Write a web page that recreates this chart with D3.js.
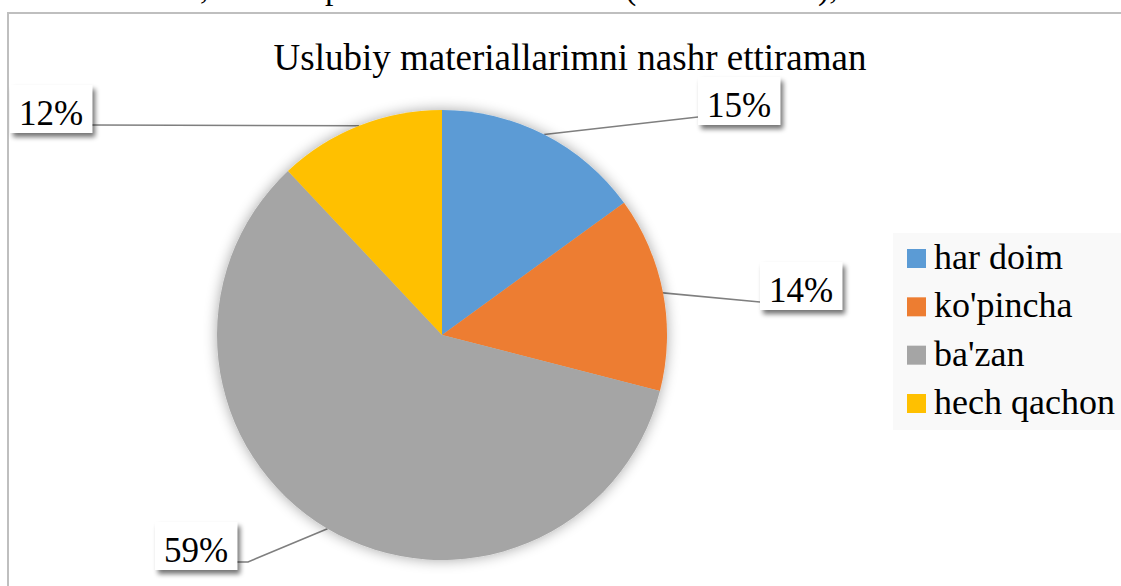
<!DOCTYPE html>
<html>
<head>
<meta charset="utf-8">
<script src="https://cdn.jsdelivr.net/npm/d3@7"></script>
</head>
<body style="margin:0">
<script>
// chart data
var categories = ["har doim", "ko'pincha", "ba'zan", "hech qachon"];
var values     = [15, 14, 59, 12];
var colors     = ["#5b9bd5", "#ed7d31", "#a5a5a5", "#ffc000"];
var title      = "Uslubiy materiallarimni nashr ettiraman";

// where each percent box sits (left x, baseline y) and the elbow of its leader
var labelPos = [
  { x: 698, y: 117, side: "left" },
  { x: 760, y: 302, side: "left" },
  { x: 155, y: 562, side: "right", elbow: 248 },
  { x: 10,  y: 125, side: "right" }
];

var W = 1121, H = 586;
var cx = 442, cy = 335, R = 225;
var serif = '"Liberation Serif"';

var svg = d3.select("body").append("svg")
  .attr("width", W).attr("height", H);

var defs = svg.append("defs");
var glow = defs.append("filter").attr("id", "glow")
  .attr("x", "-20%").attr("y", "-20%").attr("width", "140%").attr("height", "140%");
glow.append("feGaussianBlur").attr("in", "SourceAlpha").attr("stdDeviation", 7).attr("result", "b");
glow.append("feComponentTransfer").attr("in", "b").attr("result", "c")
  .append("feFuncA").attr("type", "linear").attr("slope", 0.35);
var gm = glow.append("feMerge");
gm.append("feMergeNode").attr("in", "c");
gm.append("feMergeNode").attr("in", "SourceGraphic");

var sh = defs.append("filter").attr("id", "boxshadow")
  .attr("x", "-20%").attr("y", "-20%").attr("width", "150%").attr("height", "160%");
sh.append("feGaussianBlur").attr("in", "SourceAlpha").attr("stdDeviation", 2.5).attr("result", "b");
sh.append("feOffset").attr("in", "b").attr("dx", 3).attr("dy", 4).attr("result", "o");
sh.append("feComponentTransfer").attr("in", "o").attr("result", "c")
  .append("feFuncA").attr("type", "linear").attr("slope", 0.55);
var sm = sh.append("feMerge");
sm.append("feMergeNode").attr("in", "c");
sm.append("feMergeNode").attr("in", "SourceGraphic");

// bits of the text line above the chart, cut off by the page edge
var cutText = [[200, ","], [325, "p"], [625, "("], [818, "),"]];
svg.selectAll("text.cut").data(cutText).enter().append("text")
  .attr("x", function(d) { return d[0]; }).attr("y", -1)
  .style("font-family", serif)
  .style("font-size", "34px").text(function(d) { return d[1]; });

// chart frame
svg.append("path")
  .attr("d", "M8," + H + "V13H" + W)
  .attr("fill", "none").attr("stroke", "#bfbfbf").attr("stroke-width", 2);

svg.append("text")
  .attr("x", 570).attr("y", 70)
  .attr("text-anchor", "middle")
  .style("font-family", serif)
  .style("font-size", "37px")
  .text(title);

var pie = d3.pie().sort(null).value(function(d) { return d; });
var arcs = pie(values);
var arc = d3.arc().innerRadius(0).outerRadius(R);

var g = svg.append("g").attr("transform", "translate(" + cx + "," + cy + ")");
g.append("g").attr("filter", "url(#glow)")
  .selectAll("path").data(arcs).enter().append("path")
  .attr("d", arc)
  .attr("fill", function(d, i) { return colors[i]; });

// leader lines + label boxes (box width from the glyph widths: digits .5em, % .833em)
arcs.forEach(function(d, i) {
  var a = (d.startAngle + d.endAngle) / 2;
  var sx = cx + R * Math.sin(a), sy = cy - R * Math.cos(a);
  var lp = labelPos[i];
  var txt = Math.round(values[i] / d3.sum(values) * 100) + "%";

  var lab = svg.append("g");
  var tw = 35 * (0.5 * (txt.length - 1) + 0.833);
  var bw = tw + 18, bh = 48;
  var bx = lp.x, by = lp.y - 40;
  lab.append("rect")
    .attr("x", bx).attr("y", by).attr("width", bw).attr("height", bh)
    .attr("fill", "#fff").attr("filter", "url(#boxshadow)");
  lab.append("text").attr("x", bx + 9).attr("y", lp.y)
    .style("font-family", serif)
    .style("font-size", "35px").text(txt);

  var ex = lp.side === "left" ? bx : bx + bw;
  var ey = lp.y;
  var pts = [[sx, sy]];
  if (lp.elbow) pts.push([lp.elbow, ey]);
  pts.push([ex, ey]);
  svg.insert("path", "g")
    .attr("d", d3.line()(pts))
    .attr("fill", "none").attr("stroke", "#7f7f7f").attr("stroke-width", 1.6);
});

// legend
var leg = svg.append("g");
leg.append("rect").attr("x", 893).attr("y", 233).attr("width", W - 893).attr("height", 197)
  .attr("fill", "#f9f9f9");
var rowY = d3.scalePoint().domain(categories).range([269, 414]);
categories.forEach(function(c, i) {
  leg.append("rect")
    .attr("x", 907).attr("y", rowY(c) - 20).attr("width", 19).attr("height", 19)
    .attr("fill", colors[i]);
  leg.append("text")
    .attr("x", 934).attr("y", rowY(c))
    .style("font-family", serif)
    .style("font-size", "36px")
    .text(c);
});
</script>
</body>
</html>
